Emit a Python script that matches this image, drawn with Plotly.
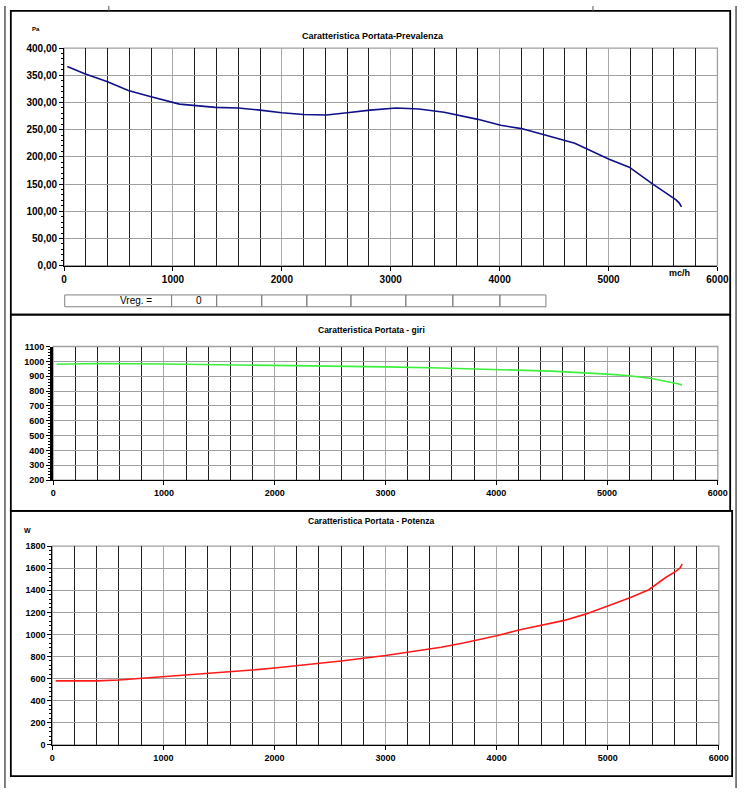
import plotly.graph_objects as go

# Curva portata-prevalenza (mc/h, Pa)
portata_prev = [30, 190, 400, 590, 790, 1000, 1060, 1390, 1600, 1800, 2000, 2200, 2410, 2600,
                2810, 3050, 3260, 3490, 3800, 4010, 4200, 4400, 4690, 5000, 5190, 5400, 5520,
                5620, 5650, 5670]
prevalenza = [366, 353, 338, 322, 311, 300, 297, 291, 290, 286, 281, 278, 277, 281,
              286, 290, 288, 282, 269, 258, 252, 241, 225, 196, 181, 151, 134,
              121, 115, 108]

# Curva portata-giri
portata_giri = [30, 400, 1000, 1400, 2000, 2500, 3000, 3500, 4000, 4500, 5000, 5180, 5390,
                5500, 5607, 5650, 5676]
giri = [980, 985, 982, 978, 975, 970, 963, 955, 947, 934, 914, 905, 886, 872, 856, 848, 839]

# Curva portata-potenza (W)
portata_pot = [30, 400, 600, 1000, 1400, 1800, 2000, 2400, 2600, 3000, 3200, 3500, 3700,
               4000, 4200, 4400, 4600, 4800, 5000, 5200, 5370, 5525, 5612, 5650, 5670]
potenza = [580, 580, 588, 616, 649, 678, 696, 738, 759, 809, 839, 884, 922,
           988, 1040, 1080, 1125, 1184, 1259, 1333, 1405, 1518, 1571, 1600, 1637]

# Riga tabella sotto il primo grafico
tabella_testi = ["Vreg. =", "0", "", "", "", "", "", "", ""]
tabella_bordi = [63, 172, 218, 264, 310, 355, 411, 459, 507, 554]

W, H = 751, 793
FONT = "Liberation Sans, Arial, sans-serif"


def px(x):
    return x / W


def py(y):
    return 1 - y / H


fig = go.Figure()
fig.add_trace(go.Scatter(x=portata_prev, y=prevalenza, mode="lines",
                         line=dict(color="#10108a", width=1.6), xaxis="x", yaxis="y"))
fig.add_trace(go.Scatter(x=portata_giri, y=giri, mode="lines",
                         line=dict(color="#3cf03c", width=1.6), xaxis="x2", yaxis="y2"))
fig.add_trace(go.Scatter(x=portata_pot, y=potenza, mode="lines",
                         line=dict(color="#ff1a1a", width=1.6), xaxis="x3", yaxis="y3"))


def xax(dom, fsize):
    return dict(domain=dom, range=[0, 6000], dtick=1000, showgrid=True, gridcolor="#a8a8a8",
                gridwidth=1.3, zeroline=False, showline=True, linecolor="black", linewidth=1,
                ticks="outside", ticklen=4, tickcolor="black",
                tickfont=dict(family=FONT, size=fsize, color="black", weight="bold"),
                minor=dict(dtick=200, showgrid=True, gridcolor="#202020", gridwidth=1),
                fixedrange=True)


def yax(dom, rng, dt, mdt, fsize, fmt=None, lw=1):
    d = dict(domain=dom, range=rng, dtick=dt, showgrid=True, gridcolor="#a0a0a0", gridwidth=1.3,
             zeroline=False, showline=True, linecolor="black", linewidth=lw,
             ticks="outside", ticklen=4, tickcolor="black",
             tickfont=dict(family=FONT, size=fsize, color="black", weight="bold"),
             minor=dict(dtick=mdt, ticks="outside", ticklen=2, tickcolor="black", showgrid=False),
             fixedrange=True)
    if fmt:
        d["tickformat"] = fmt
    return d


dom_top = ([px(62.3), px(729)], [py(263.3), py(42.7)])
dom_mid = ([px(51.2), px(729.4)], [py(480.7), py(345.3)])
dom_bot = ([px(50.3), px(730.4)], [py(749.3), py(547.7)])

fig.update_layout(
    width=W, height=H, margin=dict(l=0, r=0, t=0, b=0),
    paper_bgcolor="white", plot_bgcolor="white", showlegend=False,
    separators=",.",
    xaxis=dict(xax(dom_top[0], 10), anchor="y"),
    yaxis=dict(yax(dom_top[1], [0, 400], 50, 10, 10, ".2f"), anchor="x"),
    xaxis2=dict(xax(dom_mid[0], 9), anchor="y2"),
    yaxis2=dict(yax(dom_mid[1], [200, 1100], 100, 20, 9, lw=3), anchor="x2"),
    xaxis3=dict(xax(dom_bot[0], 9), anchor="y3"),
    yaxis3=dict(yax(dom_bot[1], [0, 1800], 200, 40, 9), anchor="x3"),
)

shapes = []
# bordo grigio area del grafico
for xa, ya in [("x", "y"), ("x2", "y2"), ("x3", "y3")]:
    shapes.append(dict(type="rect", xref=xa + " domain", yref=ya + " domain", x0=0, x1=1, y0=0, y1=1,
                       line=dict(color="#a0a0a0", width=1.3), layer="below"))
# riquadri dei pannelli
for x0, y0, x1, y1 in [(8, 5, 742, 313), (8, 313, 742, 512), (8, 512, 744, 781)]:
    shapes.append(dict(type="rect", xref="paper", yref="paper", x0=px(x0), x1=px(x1),
                       y0=py(y1), y1=py(y0), line=dict(color="black", width=1.8)))
# linee esterne della pagina
for xl in [2, 748]:
    shapes.append(dict(type="line", xref="paper", yref="paper", x0=px(xl), x1=px(xl), y0=0, y1=1,
                       line=dict(color="#555555", width=1.5)))
for xl in [108, 602]:
    shapes.append(dict(type="line", xref="paper", yref="paper", x0=px(xl), x1=px(xl), y0=py(5), y1=1,
                       line=dict(color="#555555", width=1)))
# tabella
for i in range(len(tabella_bordi) - 1):
    shapes.append(dict(type="rect", xref="paper", yref="paper", x0=px(tabella_bordi[i]),
                       x1=px(tabella_bordi[i + 1]), y0=py(305), y1=py(293),
                       line=dict(color="#808080", width=1)))
fig.update_layout(shapes=shapes)

ann = []
for i, t in enumerate(tabella_testi):
    if t:
        ann.append(dict(text=t, xref="paper", yref="paper",
                        x=px((tabella_bordi[i] + tabella_bordi[i + 1]) / 2), y=py(299),
                        showarrow=False, font=dict(family=FONT, size=10, color="black")))
titoli = [("Caratteristica Portata-Prevalenza", 378, 23, 9),
          ("Caratteristica Portata - giri", 376, 329, 8.5),
          ("Caratteristica Portata - Potenza", 376, 529, 8.5)]
for t, x, y, s in titoli:
    ann.append(dict(text="<b>" + t + "</b>", xref="paper", yref="paper", x=px(x), y=py(y),
                    showarrow=False, font=dict(family=FONT, size=s, color="black")))
unita = [("Pa", 28, 18, 6), ("mc/h", 703, 271, 9), ("W", 19, 537, 7)]
for t, x, y, s in unita:
    ann.append(dict(text="<b>" + t + "</b>", xref="paper", yref="paper", x=px(x), y=py(y),
                    showarrow=False, font=dict(family=FONT, size=s, color="black")))
fig.update_layout(annotations=ann)

# pagina senza margini e figura grande quanto la finestra visibile
adatta = """
for (const e of [document.documentElement, document.body]) {
    e.style.margin = '0'; e.style.padding = '0'; e.style.overflow = 'hidden';
}
var gd = document.getElementById('{plot_id}');
var w = document.documentElement.clientWidth, h = document.documentElement.clientHeight;
gd.style.width = w + 'px'; gd.style.height = h + 'px';
Plotly.relayout(gd, {width: w, height: h});
"""
fig.write_html("out.html", config={"displayModeBar": False}, post_script=adatta)
